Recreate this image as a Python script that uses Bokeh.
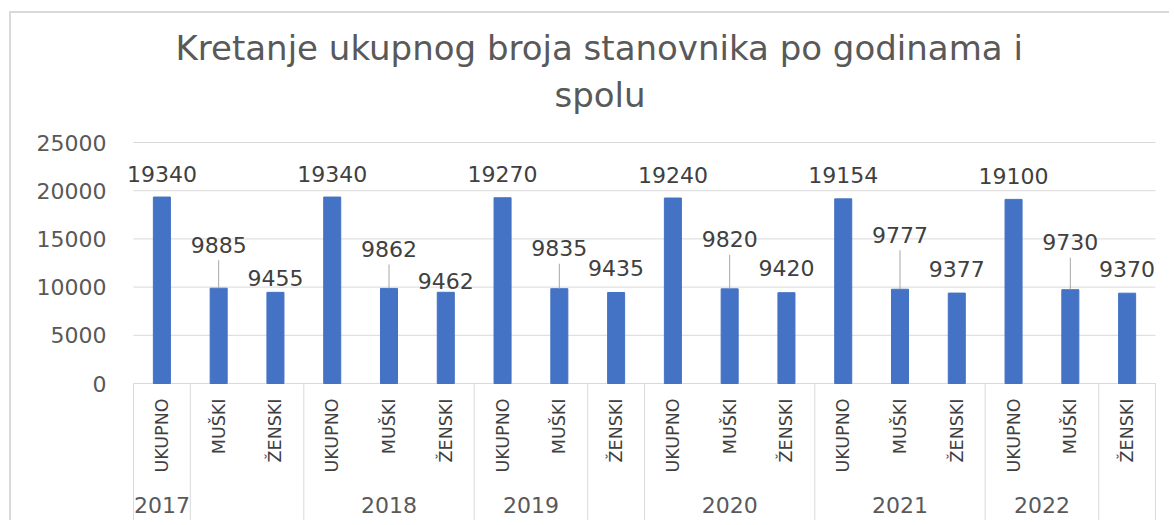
import math
from bokeh.plotting import figure
from bokeh.models import FixedTicker, Range1d, Title
from bokeh.core.properties import value
from bokeh.embed import file_html
from bokeh.resources import INLINE

# ---------------- data ----------------
years = ["2017", "2018", "2019", "2020", "2021", "2022"]
categories = ["UKUPNO", "MUŠKI", "ŽENSKI"]
ukupno = [19340, 19340, 19270, 19240, 19154, 19100]
muski = [9885, 9862, 9835, 9820, 9777, 9730]
zenski = [9455, 9462, 9435, 9420, 9377, 9370]
# outer (year) level of the category axis, as grouped in the source chart
year_groups = ["2017", "", "2018", "2019", "", "2020", "2021", "2022", ""]
year_group_sizes = [1, 2, 3, 2, 1, 3, 3, 2, 1]
y_ticks = [0, 5000, 10000, 15000, 20000, 25000]
title_line1 = "Kretanje ukupnog broja stanovnika po godinama i"
title_line2 = "spolu"

# ---------------- layout / style (px, figure coordinates) ----------------
W, H = 1160, 509
FRAME_L, FRAME_T = 107, 101
CAT_L, CAT_R = 122, 1144          # pixel columns of the category area
ZERO_Y, TOP_Y = 370, 129           # pixel rows of 0 and 25000
N = 18
PPX = (CAT_R - CAT_L) / N
UPP = 25000 / (ZERO_Y - TOP_Y)     # data units per pixel
X_START = -(CAT_L - FRAME_L) / PPX
X_END = N + (W - CAT_R) / PPX
Y_END = 25000 + (TOP_Y - FRAME_T) * UPP
Y_START = -(H - ZERO_Y) * UPP
TFIX = 8.5                          # baseline correction of text glyphs (px)
BAR_COLOR = "#4472C4"
GRID = "#d9d9d9"
TXT = "#595959"
DARK = "#404040"
FONT = "DejaVu Sans"
# label lift of the value labels above bar top (px) per year, per series
lift_ukupno = [15, 15, 15, 15, 15, 15]
lift_muski = [35, 31, 32, 41, 46, 39]
lift_zenski = [6, 3, 16, 16, 16, 16]

p = figure(width=W, height=H, x_range=Range1d(X_START, X_END), y_range=Range1d(Y_START, Y_END),
           min_border_left=FRAME_L, min_border_right=0,
           min_border_top=FRAME_T, min_border_bottom=0,
           x_axis_location=None, output_backend="svg", toolbar_location=None)
p.styles = {"border-left": "2px solid #d9d9d9", "border-top": "2px solid #d9d9d9",
            "margin-left": "9px", "margin-top": "11px"}
p.outline_line_color = None

# title: two lines, each centred around the same point
p.title.text = title_line1
p.title.align = "left"
p.title.offset = 57
p.title.standoff = 10
p.title.text_font = FONT
p.title.text_font_size = "34px"
p.title.text_font_style = "normal"
p.title.text_color = TXT
t2 = Title(text=title_line2, align="left", offset=436, standoff=0, text_font=FONT,
           text_font_size="34px", text_font_style="normal", text_color=TXT)
p.add_layout(t2, "above")

ticker = FixedTicker(ticks=y_ticks)
p.yaxis.ticker = ticker
p.yaxis.axis_line_color = None
p.yaxis.major_tick_line_color = None
p.yaxis.minor_tick_line_color = None
p.yaxis.major_label_standoff = 6
p.yaxis.major_label_text_font = FONT
p.yaxis.major_label_text_font_size = "22px"
p.yaxis.major_label_text_color = TXT
p.xgrid.visible = False
p.ygrid.visible = False

# horizontal gridlines over the category area only
p.segment(x0=[0] * len(y_ticks), y0=y_ticks, x1=[N] * len(y_ticks), y1=y_ticks,
          line_color=GRID, line_width=1)

# bars
xs, vals, labs, lifts, series = [], [], [], [], []
for i, yr in enumerate(years):
    for j, (arr, lf) in enumerate([(ukupno, lift_ukupno), (muski, lift_muski), (zenski, lift_zenski)]):
        xs.append(3 * i + j + 0.5)
        vals.append(arr[i])
        labs.append(categories[j])
        lifts.append(lf[i])
        series.append(j)

p.vbar(x=xs, top=vals, width=0.3, fill_color=BAR_COLOR, line_color=BAR_COLOR)

# leader lines for MUŠKI labels
mx = [x for x, s in zip(xs, series) if s == 1]
mv = [v for v, s in zip(vals, series) if s == 1]
ml = [l for l, s in zip(lifts, series) if s == 1]
p.segment(x0=mx, y0=mv, x1=mx, y1=[v + (l - 7) * UPP for v, l in zip(mv, ml)],
          line_color="#a6a6a6", line_width=1)

# data labels
p.text(x=xs, y=[v + (l + TFIX) * UPP for v, l in zip(vals, lifts)], text=[str(v) for v in vals],
       text_align="center", text_baseline="alphabetic", text_font=value(FONT),
       text_font_size="22px", text_color=DARK)

# inner category labels (rotated)
p.text(x=xs, y=[-15 * UPP] * len(xs), text=labs, angle=math.pi / 2,
       text_align="right", text_baseline="middle", text_font=value(FONT),
       text_font_size="17.5px", text_color=DARK)

# outer year labels and separators
bounds = [0]
for s in year_group_sizes:
    bounds.append(bounds[-1] + s)
gx = [(a + b) / 2 for a, b in zip(bounds[:-1], bounds[1:])]
p.text(x=gx, y=[-(130 - TFIX) * UPP] * len(gx), text=year_groups, text_align="center",
       text_baseline="alphabetic", text_font=value(FONT), text_font_size="22px",
       text_color=TXT)
p.segment(x0=bounds, y0=[0] * len(bounds), x1=bounds, y1=[Y_START] * len(bounds),
          line_color=GRID, line_width=1)

open("out.html", "w").write(file_html(p, INLINE))
